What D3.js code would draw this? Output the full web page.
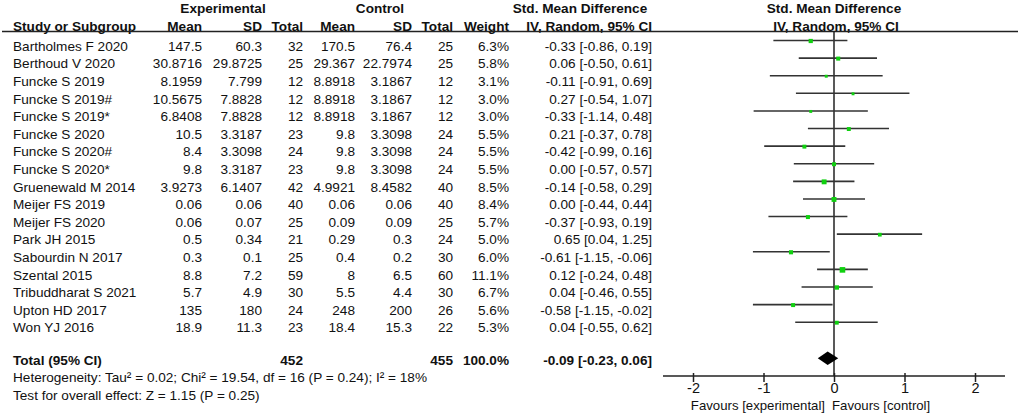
<!DOCTYPE html>
<html>
<head>
<meta charset="utf-8">
<script src="https://cdn.jsdelivr.net/npm/d3@7"></script>
<style>
body{margin:0;background:#fff;}
svg text{font-family:"Liberation Sans",Arial,sans-serif;fill:#111;}
</style>
</head>
<body>
<svg id="canvas" width="1020" height="416"></svg>
<script>
let studies=["Bartholmes F 2020","Berthoud V 2020","Funcke S 2019","Funcke S 2019#","Funcke S 2019*","Funcke S 2020","Funcke S 2020#","Funcke S 2020*","Gruenewald M 2014","Meijer FS 2019","Meijer FS 2020","Park JH 2015","Sabourdin N 2017","Szental 2015","Tribuddharat S 2021","Upton HD 2017","Won YJ 2016"];
let expMean=[147.5,30.8716,8.1959,10.5675,6.8408,10.5,8.4,9.8,3.9273,0.06,0.06,0.5,0.3,8.8,5.7,135,18.9];
let expSD=[60.3,29.8725,7.799,7.8828,7.8828,3.3187,3.3098,3.3187,6.1407,0.06,0.07,0.34,0.1,7.2,4.9,180,11.3];
let expN=[32,25,12,12,12,23,24,23,42,40,25,21,25,59,30,24,23];
let ctlMean=[170.5,29.367,8.8918,8.8918,8.8918,9.8,9.8,9.8,4.9921,0.06,0.09,0.29,0.4,8,5.5,248,18.4];
let ctlSD=[76.4,22.7974,3.1867,3.1867,3.1867,3.3098,3.3098,3.3098,8.4582,0.06,0.09,0.3,0.2,6.5,4.4,200,15.3];
let ctlN=[25,25,12,12,12,24,24,24,40,40,25,24,30,60,30,26,22];
let weight=[6.3,5.8,3.1,3.0,3.0,5.5,5.5,5.5,8.5,8.4,5.7,5.0,6.0,11.1,6.7,5.6,5.3];
let smd=[-0.33,0.06,-0.11,0.27,-0.33,0.21,-0.42,0.00,-0.14,0.00,-0.37,0.65,-0.61,0.12,0.04,-0.58,0.04];
let lo=[-0.86,-0.50,-0.91,-0.54,-1.14,-0.37,-0.99,-0.57,-0.58,-0.44,-0.93,0.04,-1.15,-0.24,-0.46,-1.15,-0.55];
let hi=[0.19,0.61,0.69,1.07,0.48,0.78,0.16,0.57,0.29,0.44,0.19,1.25,-0.06,0.48,0.55,-0.02,0.62];
let total={expN:452,ctlN:455,weight:100.0,smd:-0.09,lo:-0.23,hi:0.06};
let footnotes=["Heterogeneity: Tau\u00b2 = 0.02; Chi\u00b2 = 19.54, df = 16 (P = 0.24); I\u00b2 = 18%","Test for overall effect: Z = 1.15 (P = 0.25)"];
let xTicks=[-2,-1,0,1,2];

let canvas=d3.select("#canvas");
let fs=13.6;
let yRow=d3.scaleLinear().domain([0,studies.length-1]).range([46,327.7]);
let xScale=d3.scaleLinear().domain([-2,2]).range([693,975]);
let wScale=d3.scaleSqrt().domain([0,11.1]).range([0,5.6]);
let fmt2=(v)=>v.toFixed(2);
let ciText=(s,l,h)=>fmt2(s)+" ["+fmt2(l)+", "+fmt2(h)+"]";

// columns: x position + anchor for each table column
let cols=[
  {x:13,anchor:"start",vals:studies},
  {x:202,anchor:"end",vals:expMean},
  {x:262,anchor:"end",vals:expSD},
  {x:303,anchor:"end",vals:expN},
  {x:355,anchor:"end",vals:ctlMean},
  {x:412,anchor:"end",vals:ctlSD},
  {x:453,anchor:"end",vals:ctlN},
  {x:509,anchor:"end",vals:weight.map(w=>w.toFixed(1)+"%")},
  {x:652,anchor:"end",vals:studies.map((d,i)=>ciText(smd[i],lo[i],hi[i]))}
];

let header1=[{t:"Experimental",x:223},{t:"Control",x:380},{t:"Std. Mean Difference",x:580},{t:"Std. Mean Difference",x:834}];
let header2=[{t:"Study or Subgroup",x:13,a:"start"},{t:"Mean",x:202,a:"end"},{t:"SD",x:262,a:"end"},{t:"Total",x:303,a:"end"},{t:"Mean",x:355,a:"end"},{t:"SD",x:412,a:"end"},{t:"Total",x:453,a:"end"},{t:"Weight",x:509,a:"end"},{t:"IV, Random, 95% CI",x:652,a:"end"},{t:"IV, Random, 95% CI",x:836,a:"middle"}];

canvas.selectAll("text.h1").data(header1).enter().append("text").attr("class","h1")
  .attr("x",d=>d.x).attr("y",8).attr("dy","0.35em").attr("text-anchor","middle")
  .style("font-weight","bold").style("font-size",fs+"px").text(d=>d.t);
canvas.selectAll("text.h2").data(header2).enter().append("text").attr("class","h2")
  .attr("x",d=>d.x).attr("y",26).attr("dy","0.35em").attr("text-anchor",d=>d.a)
  .style("font-weight","bold").style("font-size",fs+"px").text(d=>d.t);

canvas.append("line").attr("x1",2).attr("x2",1018).attr("y1",31.5).attr("y2",31.5)
  .attr("stroke","#222").attr("stroke-width",1.5);

cols.forEach((c)=>{
  canvas.append("g").selectAll("text").data(c.vals).enter().append("text")
    .attr("x",c.x).attr("y",(d,i)=>yRow(i)).attr("dy","0.35em").attr("text-anchor",c.anchor)
    .style("font-size",fs+"px").text(d=>d);
});

// total row
let yTot=360;
let totRow=[{t:"Total (95% CI)",x:13,a:"start"},{t:total.expN,x:303,a:"end"},{t:total.ctlN,x:453,a:"end"},{t:total.weight.toFixed(1)+"%",x:509,a:"end"},{t:ciText(total.smd,total.lo,total.hi),x:652,a:"end"}];
canvas.selectAll("text.tot").data(totRow).enter().append("text").attr("class","tot")
  .attr("x",d=>d.x).attr("y",yTot).attr("dy","0.35em").attr("text-anchor",d=>d.a)
  .style("font-weight","bold").style("font-size",fs+"px").text(d=>d.t);

canvas.selectAll("text.foot").data(footnotes).enter().append("text").attr("class","foot")
  .attr("x",13).attr("y",(d,i)=>377.5+i*18).attr("dy","0.35em")
  .style("font-size",fs+"px").text(d=>d);

// forest plot
let axisY=376;
canvas.append("line").attr("x1",xScale(0)).attr("x2",xScale(0)).attr("y1",31.5).attr("y2",axisY)
  .attr("stroke","#222").attr("stroke-width",1.5);

let g=canvas.append("g");
g.selectAll("line.ci").data(studies).enter().append("line").attr("class","ci")
  .attr("x1",(d,i)=>xScale(lo[i])).attr("x2",(d,i)=>xScale(hi[i]))
  .attr("y1",(d,i)=>yRow(i)-5.5).attr("y2",(d,i)=>yRow(i)-5.5)
  .attr("stroke","#333").attr("stroke-width",1.6);
g.selectAll("rect").data(studies).enter().append("rect")
  .attr("x",(d,i)=>xScale(smd[i])-wScale(weight[i])/2)
  .attr("y",(d,i)=>yRow(i)-5-wScale(weight[i])/2)
  .attr("width",(d,i)=>wScale(weight[i])).attr("height",(d,i)=>wScale(weight[i]))
  .attr("fill","#10d010");

let dy=358.3, dh=6.8;
canvas.append("path")
  .attr("d",`M${xScale(total.lo)},${dy} L${xScale(total.smd)},${dy-dh} L${xScale(total.hi)},${dy} L${xScale(total.smd)},${dy+dh} Z`)
  .attr("fill","#000");

let axis=d3.axisBottom(xScale).tickValues(xTicks).tickSize(6).tickSizeOuter(0).tickFormat(d3.format("d"));
let ax=canvas.append("g").attr("transform","translate(0,"+axisY+")").call(axis);
ax.select(".domain").remove();
ax.append("line").attr("x1",663).attr("x2",1005).attr("stroke","#222").attr("stroke-width",1.5);
ax.selectAll(".tick line").attr("stroke","#222").attr("stroke-width",1.5).attr("y1",-3);
ax.selectAll(".tick text").style("font-size","14.5px").style("font-family","Liberation Sans, Arial, sans-serif").attr("fill","#111").attr("y",7).attr("dy","0.71em").text(d=>d<0?"-"+Math.abs(d):d);

canvas.append("text").attr("x",825).attr("y",405).attr("dy","0.35em").attr("text-anchor","end")
  .style("font-size","13.2px").text("Favours [experimental]");
canvas.append("text").attr("x",832).attr("y",405).attr("dy","0.35em").attr("text-anchor","start")
  .style("font-size","13.2px").text("Favours [control]");
</script>
</body>
</html>
